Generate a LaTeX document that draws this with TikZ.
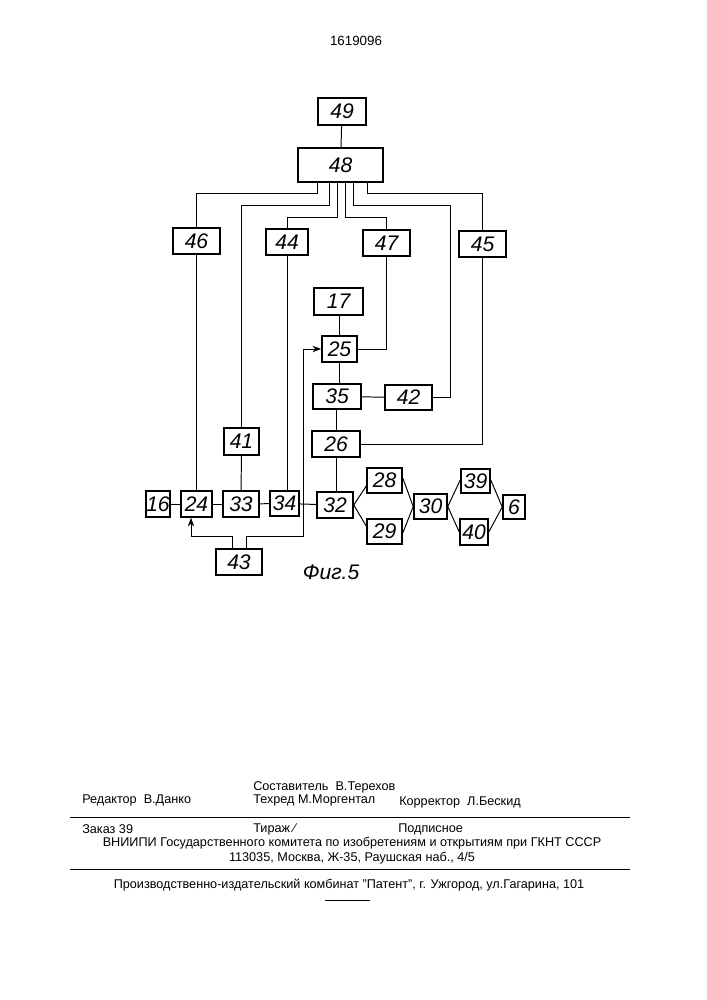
\documentclass[tikz,border=0pt]{standalone}
\usepackage{fontspec}
\setmainfont{Liberation Sans}
\usetikzlibrary{arrows.meta}
\newcommand\blk[6]{\node[bx,minimum width={(#4-#2)*0.025cm},minimum height={(#5-#3)*0.025cm}] (#1) at ({(#2+#4)/2},{(#3+#5)/2}) {#6};}
\begin{document}
\begin{tikzpicture}[x=0.025cm,y=-0.025cm,
  bx/.style={draw,line width=1.1pt,inner sep=0pt,font=\fontsize{15}{15}\selectfont\itshape},
  ln/.style={line width=0.7pt},
  ar/.style={ln,-{Stealth[length=2.2mm,width=1.6mm]}},
  ft/.style={font=\fontsize{9}{10}\selectfont,inner sep=0pt}]
\useasboundingbox (0,0) rectangle (707,1000);
\node[font=\fontsize{9.5}{10}\selectfont] (pn) at (356,41) {1619096};
\blk{n49}{318}{98}{366}{125}{49}
\blk{n48}{298}{148}{383}{182}{48}
\blk{n46}{173}{228}{220}{254}{46}
\blk{n44}{266}{229}{308}{255}{44}
\blk{n47}{363}{230}{410}{256}{47}
\blk{n45}{459}{231}{506}{257}{45}
\blk{n17}{314}{288}{363}{315}{17}
\blk{n25}{322}{336}{357}{362}{25}
\blk{n35}{313}{384}{361}{409}{35}
\blk{n42}{385}{385}{432}{410}{42}
\blk{n26}{312}{431}{360}{457}{26}
\blk{n41}{224}{428}{259}{455}{41}
\blk{n16}{146}{491}{170}{517}{16}
\blk{n24}{181}{491}{212}{517}{24}
\blk{n33}{223}{491}{259}{517}{33}
\blk{n34}{270}{491}{299}{516}{34}
\blk{n32}{317}{492}{353}{518}{32}
\blk{n28}{367}{468}{402}{493}{28}
\blk{n29}{367}{519}{402}{544}{29}
\blk{n30}{414}{494}{447}{519}{30}
\blk{n39}{461}{469}{490}{493}{39}
\blk{n40}{460}{519}{488}{545}{40}
\blk{n6}{503}{495}{525}{519}{6}
\blk{n43}{216}{549}{262}{575}{43}
\node[font=\fontsize{15}{15}\selectfont\itshape] (cap) at (331,572) {Фиг.5};
% from 48
\draw[ln] (n49) -- (n48);
\draw[ln] (n48.south -| 317,0) -- (317,193) -| (n46.north);
\draw[ln] (n46.south) -- (n46.south |- n24.north);
\draw[ln] (n48.south -| 329,0) -- (329,205) -| (n41.north);
\draw[ln] (n48.south -| 337,0) -- (337,217) -| (n44.north);
\draw[ln] (n44.south) -- (n44.south |- n34.north);
\draw[ln] (n48.south -| 345,0) -- (345,217) -| (n47.north);
\draw[ln] (n47.south) |- (n25.east);
\draw[ln] (n48.south -| 353,0) -- (353,205) -- (450,205) |- (n42.east);
\draw[ln] (n48.south -| 367,0) -- (367,193) -| (n45.north);
\draw[ln] (n45.south) |- (n26.east);
% central column
\draw[ln] (n17.south -| n25.north) -- (n25.north);
\draw[ln] (n25.south) -- (n25.south |- n35.north);
\draw[ln] (n35) -- (n42);
\draw[ln] (n35.south -| n26.north) -- (n26.north);
\draw[ln] (n26.south) -- (n26.south |- n32.north);
\draw[ln] (n41) -- (n33);
% chain
\draw[ln] (n16) -- (n24);
\draw[ln] (n24) -- (n33);
\draw[ln] (n33) -- (n34);
\draw[ln] (n34) -- (n32);
\draw[ln] (n32.east) -- (n28.west |- 0,486);
\draw[ln] (n32.east) -- (n29.west |- 0,526);
\draw[ln] (n28.east |- 0,478) -- (n30.west);
\draw[ln] (n29.east |- 0,533) -- (n30.west);
\draw[ln] (n30.east) -- (n39.west |- 0,480);
\draw[ln] (n30.east) -- (n40.west |- 0,532);
\draw[ln] (n39.east |- 0,480) -- (n6.west);
\draw[ln] (n40.east |- 0,532) -- (n6.west);
% 43
\draw[ar] (n43.north -| 232,0) -- (232,536) -| (n24.south -| 191,0);
\draw[ar] (n43.north -| 246,0) -- (246,536) -- (303,536) |- (n25.west);
% footer
\node[ft,anchor=west] (f1) at (253,787) {Составитель\ \ В.Терехов};
\node[ft,anchor=west] (f2) at (82,800) {Редактор\ \ В.Данко};
\node[ft,anchor=west] (f3) at (253,800) {Техред М.Моргентал};
\node[ft,anchor=west] (f4) at (399,802) {Корректор\ \ Л.Бескид};
\draw[line width=0.6pt] (70,817) -- (630,817);
\node[ft,anchor=west] (f5) at (82,829) {Заказ 39};
\node[ft,anchor=west] (f6) at (253,829) {Тираж ⁄};
\node[ft,anchor=west] (f7) at (398,829) {Подписное};
\node[ft] (f8) at (352,843) {ВНИИПИ Государственного комитета по изобретениям и открытиям при ГКНТ СССР};
\node[ft] (f9) at (352,858) {113035, Москва, Ж-35, Раушская наб., 4/5};
\draw[line width=0.6pt] (70,869) -- (630,869);
\node[ft] (f10) at (349,885) {Производственно-издательский комбинат "Патент", г. Ужгород, ул.Гагарина, 101};
\draw[line width=0.4pt] (325,900) -- (370,900);
\end{tikzpicture}
\end{document}
